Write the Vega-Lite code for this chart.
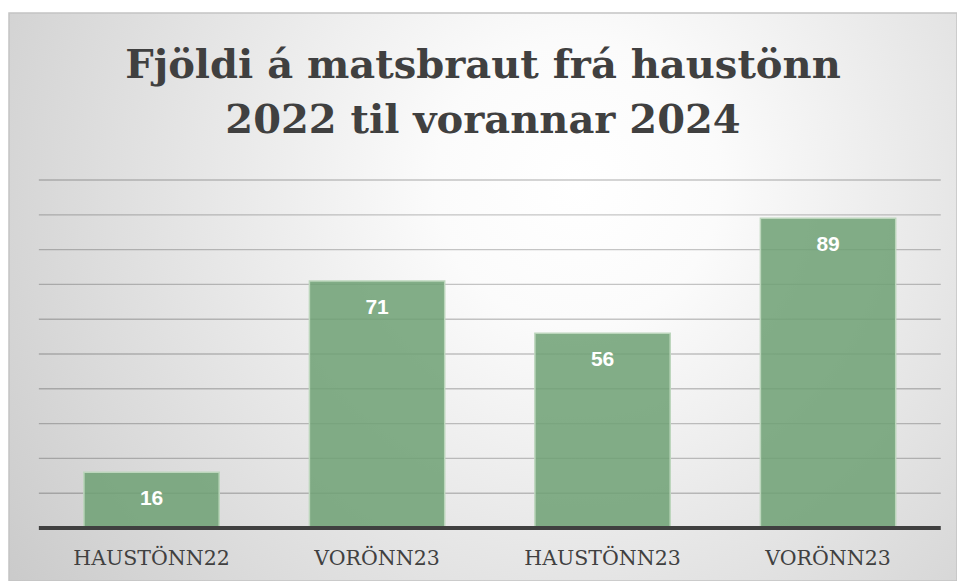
{
  "$schema": "https://vega.github.io/schema/vega-lite/v6.json",
  "width": 948,
  "height": 568,
  "autosize": {"type": "none"},
  "padding": {"left": 9, "top": 13, "right": 0, "bottom": 0},
  "background": "#ffffff",
  "title": {
    "text": ["Fjöldi á matsbraut frá haustönn", "2022 til vorannar 2024"],
    "font": "DejaVu Serif",
    "fontWeight": "bold",
    "fontSize": 40,
    "lineHeight": 55,
    "color": "#404040",
    "anchor": "middle",
    "frame": "group",
    "offset": -128
  },
  "datasets": {
    "onn": [
      {"onn": "HAUSTÖNN22", "fjoldi": 16},
      {"onn": "VORÖNN23", "fjoldi": 71},
      {"onn": "HAUSTÖNN23", "fjoldi": 56},
      {"onn": "VORÖNN23#2", "fjoldi": 89}
    ],
    "grid": [
      {"g": 10, "w": 1}, {"g": 20, "w": 1}, {"g": 30, "w": 1}, {"g": 40, "w": 1}, {"g": 50, "w": 1},
      {"g": 60, "w": 1}, {"g": 70, "w": 1}, {"g": 80, "w": 1}, {"g": 90, "w": 1}, {"g": 100, "w": 1}
    ]
  },
  "layer": [
    {
      "data": {"name": "grid"},
      "mark": {"type": "rule", "color": "#000000", "opacity": 0.22, "strokeWidth": 1.4},
      "encoding": {
        "y": {"field": "g", "type": "quantitative"},
        "x": {"datum": "HAUSTÖNN22", "bandPosition": -0.333},
        "x2": {"datum": "VORÖNN23#2", "bandPosition": 1.333}
      }
    },
    {
      "data": {"name": "onn"},
      "mark": {"type": "bar", "fill": "#6fa175", "fillOpacity": 0.86, "stroke": "#bcd6bc", "strokeWidth": 1.5},
      "encoding": {"y": {"field": "fjoldi", "type": "quantitative"}, "y2": {"datum": 0}}
    },
    {
      "data": {"name": "onn"},
      "mark": {"type": "text", "color": "#ffffff", "font": "Liberation Sans", "fontWeight": "bold", "fontSize": 21, "baseline": "middle", "dy": 27},
      "encoding": {"y": {"field": "fjoldi", "type": "quantitative"}, "text": {"field": "fjoldi", "type": "quantitative"}}
    },
    {
      "data": {"values": [{"g": 0}]},
      "mark": {"type": "rule", "color": "#404040", "strokeWidth": 4},
      "encoding": {
        "y": {"field": "g", "type": "quantitative"},
        "x": {"datum": "HAUSTÖNN22", "bandPosition": -0.333},
        "x2": {"datum": "VORÖNN23#2", "bandPosition": 1.333}
      }
    }
  ],
  "encoding": {
    "x": {
      "field": "onn",
      "type": "nominal",
      "sort": null,
      "scale": {"domain": ["HAUSTÖNN22", "VORÖNN23", "HAUSTÖNN23", "VORÖNN23#2"], "paddingInner": 0.4, "paddingOuter": 0.302, "align": 0.55},
      "axis": {
        "title": null,
        "labelAngle": 0,
        "labelExpr": "replace(datum.label, '#2', '')",
        "labelFont": "DejaVu Serif",
        "labelFontSize": 20.5,
        "labelColor": "#404040",
        "labelPadding": 19,
        "ticks": false,
        "domain": false,
        "grid": false,
        "offset": -52
      }
    },
    "y": {
      "type": "quantitative",
      "scale": {"domain": [-15.23, 148], "nice": false, "zero": false},
      "axis": null
    }
  },
  "config": {
    "view": {
      "stroke": "#c4c4c4",
      "strokeWidth": 1.5,
      "fill": {
        "gradient": "radial",
        "x1": 0.6, "y1": 0.38, "r1": 0,
        "x2": 0.6, "y2": 0.38, "r2": 0.75,
        "stops": [
          {"offset": 0, "color": "#ffffff"},
          {"offset": 0.2, "color": "#fbfbfb"},
          {"offset": 1, "color": "#c9c9c9"}
        ]
      }
    }
  }
}
